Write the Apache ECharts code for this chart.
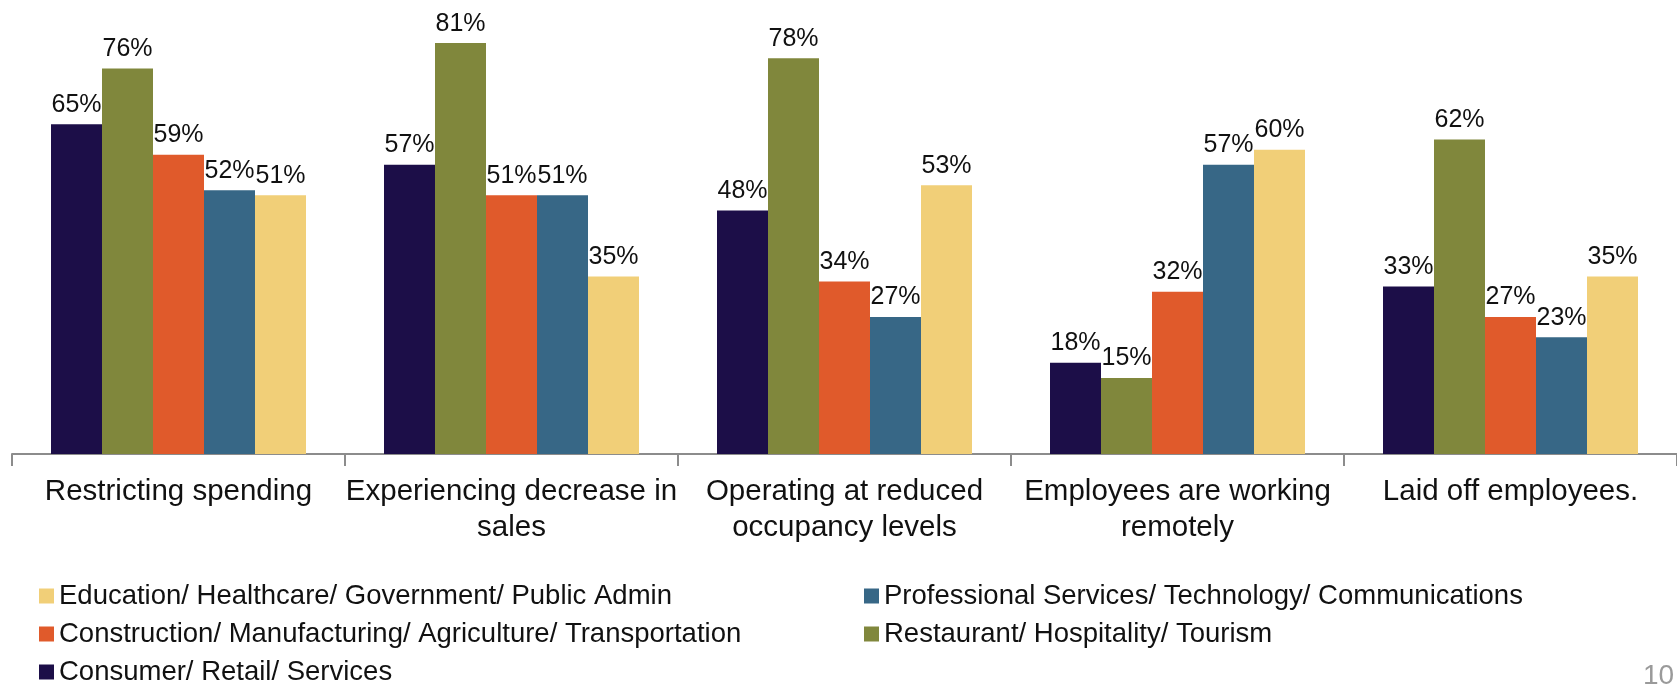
<!DOCTYPE html>
<html style="height: 100%">
<head>
    <meta charset="utf-8">
    <title>Business impact by industry</title>
</head>
<body style="height: 100%; margin: 0; background: #fff;">
<div id="container" style="width: 1677px; height: 684px;"></div>
<script src="https://cdn.jsdelivr.net/npm/echarts@6/dist/echarts.min.js"></script>
<script type="text/javascript">
    var categories = [
        'Restricting spending',
        'Experiencing decrease in\nsales',
        'Operating at reduced\noccupancy levels',
        'Employees are working\nremotely',
        'Laid off employees.'
    ];
    var consumer = [65, 57, 48, 18, 33];
    var restaurant = [76, 81, 78, 15, 62];
    var construction = [59, 51, 34, 32, 27];
    var professional = [52, 51, 27, 57, 23];
    var education = [51, 35, 53, 60, 35];

    var names = {
        consumer: 'Consumer/ Retail/ Services',
        restaurant: 'Restaurant/ Hospitality/ Tourism',
        construction: 'Construction/ Manufacturing/ Agriculture/ Transportation',
        professional: 'Professional Services/ Technology/ Communications',
        education: 'Education/ Healthcare/ Government/ Public Admin'
    };
    var colors = {
        consumer: '#1c0e48',
        restaurant: '#80873c',
        construction: '#e05a2b',
        professional: '#376786',
        education: '#f1cf78'
    };

    var font = '"Liberation Sans", Arial, sans-serif';

    function makeSeries(key, data) {
        return {
            name: names[key],
            type: 'bar',
            data: data,
            barWidth: 51,
            barGap: '0%',
            itemStyle: {color: colors[key]},
            label: {
                show: true,
                position: 'top',
                distance: 7,
                formatter: '{c}%',
                color: '#111',
                fontSize: 25,
                fontFamily: font
            }
        };
    }

    var legendText = {color: '#111', fontSize: 27.5, fontFamily: font, lineHeight: 28};

    var myChart = echarts.init(document.getElementById('container'));
    var option = {
        animation: false,
        legend: [
            {
                orient: 'vertical',
                left: 39,
                top: 582,
                height: 130,
                icon: 'rect',
                itemWidth: 15,
                itemHeight: 15,
                itemGap: 10,
                padding: 0,
                textStyle: legendText,
                data: [names.education, names.construction, names.consumer]
            },
            {
                orient: 'vertical',
                left: 864,
                top: 582,
                height: 130,
                icon: 'rect',
                itemWidth: 15,
                itemHeight: 15,
                itemGap: 10,
                padding: 0,
                textStyle: legendText,
                data: [names.professional, names.restaurant]
            }
        ],
        grid: {
            left: 12,
            right: 0,
            top: 0,
            height: 454
        },
        xAxis: {
            type: 'category',
            data: categories,
            axisLine: {lineStyle: {color: '#8c8c8c', width: 2}},
            axisTick: {show: true, length: 12, lineStyle: {color: '#8c8c8c', width: 2}},
            axisLabel: {
                interval: 0,
                margin: 20,
                color: '#111',
                fontSize: 29.5,
                lineHeight: 36,
                fontFamily: font
            }
        },
        yAxis: {
            type: 'value',
            min: 0,
            max: 89.5,
            show: false
        },
        graphic: [{
            type: 'text',
            left: 1643,
            top: 662,
            style: {text: '10', fill: '#9a9a9a', fontSize: 28, fontFamily: font}
        }],
        series: [
            makeSeries('consumer', consumer),
            makeSeries('restaurant', restaurant),
            makeSeries('construction', construction),
            makeSeries('professional', professional),
            makeSeries('education', education)
        ]
    };
    myChart.setOption(option, true);
</script>
</body>
</html>
